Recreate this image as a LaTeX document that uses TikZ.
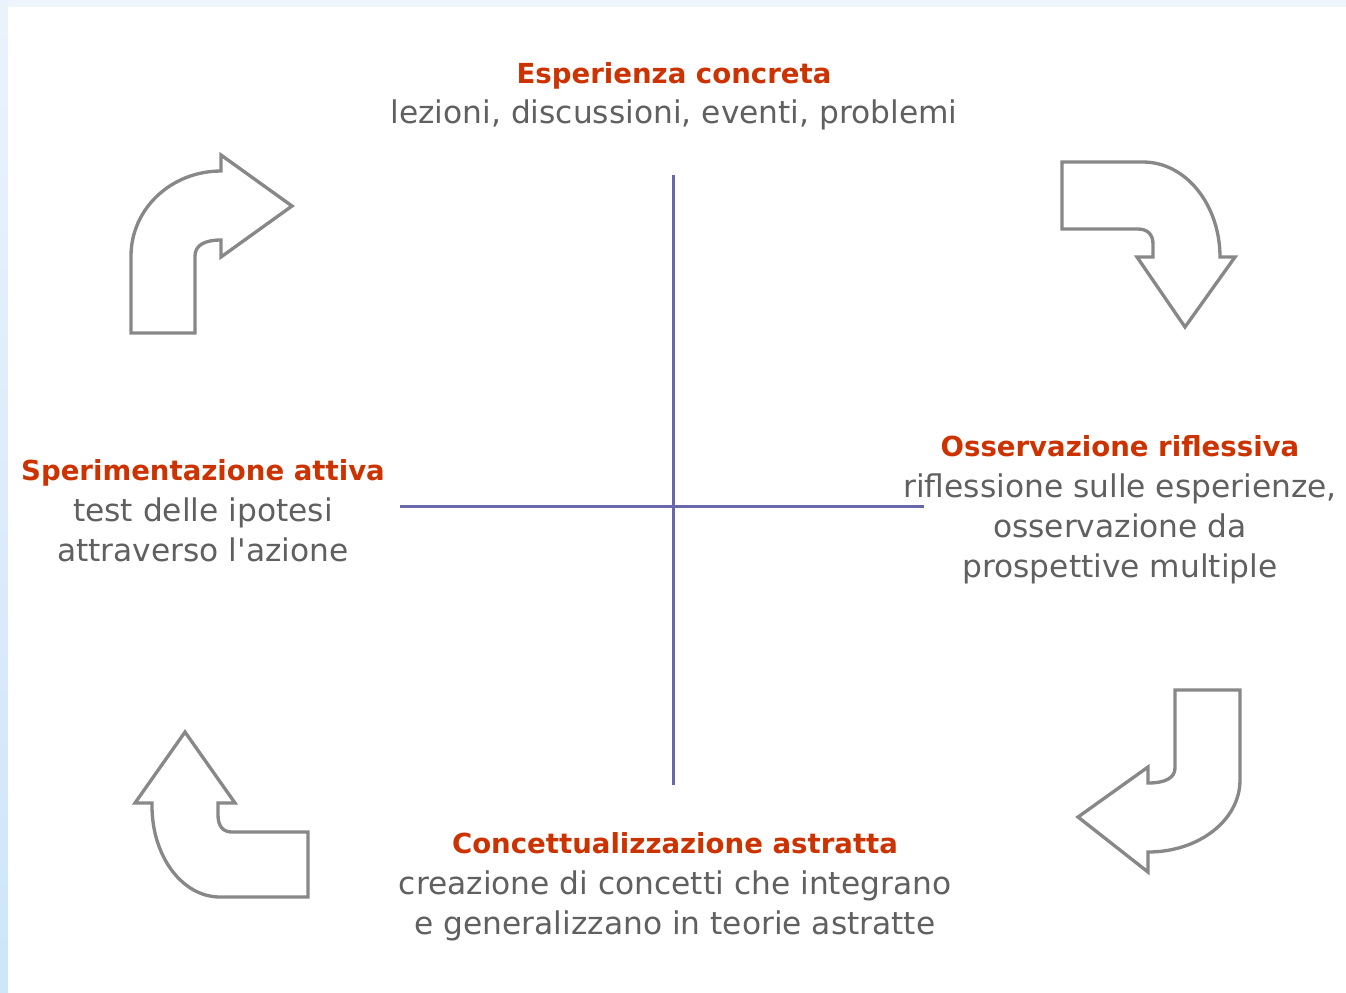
\documentclass[tikz,border=0pt]{standalone}
\usepackage{fontspec}
\setmainfont{DejaVu Sans}[Ligatures=TeXOff]
\definecolor{phasered}{RGB}{204,51,0}
\definecolor{phasegray}{RGB}{96,96,96}
\definecolor{axisblue}{RGB}{104,104,170}
\definecolor{arrowgray}{RGB}{136,136,136}
\definecolor{framehi}{RGB}{234,243,252}
\definecolor{framelo}{RGB}{206,229,250}
\definecolor{frametop}{RGB}{238,245,252}
\tikzset{
	bentarrow/.style={draw=arrowgray, line width=1.9pt, fill=white, line join=miter},
	axisline/.style={draw=axisblue, line width=1.7pt},
	phase/.style={align=center, text=phasegray, font=\fontsize{17.8}{23}\selectfont, inner sep=0pt},
}
\newcommand{\phasetitle}[1]{{\color{phasered}\bfseries\fontsize{15.7}{23}\selectfont #1}}

\begin{document}
\begin{tikzpicture}[x=0.02cm, y=-0.02cm]
		%%%%% START %%%%%
		\useasboundingbox (0, 0) rectangle (1346, 992);
		
		\shade[top color=framehi, bottom color=framelo] (0, 0) rectangle (8, 992);
		\fill[frametop] (8, 0) rectangle (1346, 7);
		\fill[white] (8, 7) rectangle (1346, 992);
		
		% the two axes
		\draw[axisline] (673, 175) -- (673, 785);
		\draw[axisline] (400, 506) -- (924, 506);
		
		% the four phases
		\node[phase] (concrete) at (674, 96) {\phasetitle{Esperienza concreta}\\lezioni, discussioni, eventi, problemi};
		\node[phase] (reflective) at (1120, 510) {\phasetitle{Osservazione riflessiva}\\riflessione sulle esperienze,\\osservazione da\\prospettive multiple};
		\node[phase] (abstract) at (675, 887) {\phasetitle{Concettualizzazione astratta}\\creazione di concetti che integrano\\e generalizzano in teorie astratte};
		\node[phase] (active) at (203, 511) {\phasetitle{Sperimentazione attiva}\\test delle ipotesi\\attraverso l'azione};
		
		% top left, pointing right
		\draw[bentarrow] (131, 333) -- (131, 256) .. controls (131, 209) and (171, 171) .. (221, 171)
			-- (221, 155) -- (292, 206) -- (221, 257) -- (221, 240)
			.. controls (205, 240) and (195, 245) .. (195, 256) -- (195, 333) -- cycle;
		
		% top right, pointing down
		\draw[bentarrow] (1062, 162) -- (1143, 162) .. controls (1186, 162) and (1220, 205) .. (1220, 257)
			-- (1235, 257) -- (1185, 327) -- (1137, 257) -- (1153, 257) -- (1153, 244)
			.. controls (1153, 235) and (1148, 229) .. (1138, 229) -- (1062, 229) -- cycle;
		
		% bottom right, pointing left
		\draw[bentarrow] (1175, 690) -- (1240, 690) -- (1240, 780) .. controls (1240, 820) and (1199, 852) .. (1148, 852)
			-- (1148, 872) -- (1078, 817) -- (1148, 767) -- (1148, 783)
			.. controls (1165, 783) and (1175, 778) .. (1175, 768) -- cycle;
		
		% bottom left, pointing up
		\draw[bentarrow] (185, 732) -- (235, 803) -- (218, 803) -- (218, 815)
			.. controls (218, 826) and (223, 832) .. (232, 832) -- (308, 832) -- (308, 897) -- (220, 897)
			.. controls (182, 897) and (152, 856) .. (152, 806) -- (152, 803) -- (135, 803) -- cycle;
		
		%%%%% END %%%%%
\end{tikzpicture}
\end{document}
